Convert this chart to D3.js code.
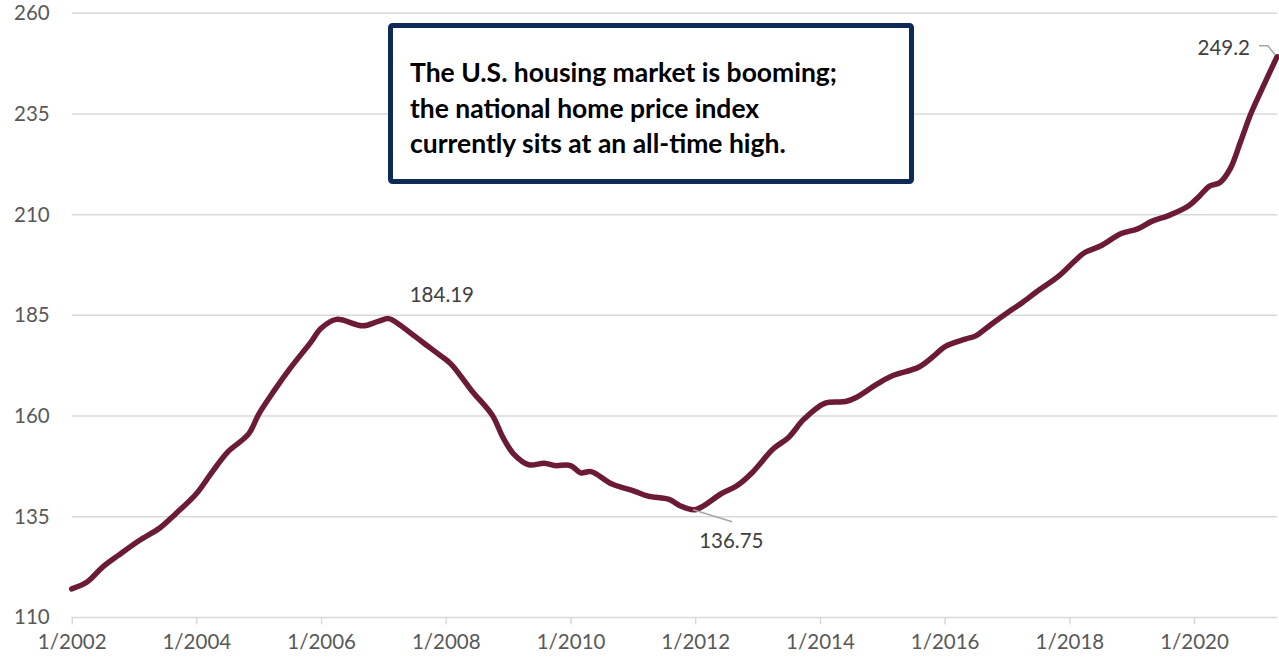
<!DOCTYPE html>
<html>
<head>
<meta charset="utf-8">
<script src="https://cdn.jsdelivr.net/npm/d3@7"></script>
<style>
  html, body { margin: 0; padding: 0; background: #fff; }
  svg { display: block; }
  text { font-family: Lato, "Open Sans", sans-serif; }
</style>
</head>
<body>
<svg id="chart" width="1279" height="666"></svg>
<script>
// ---- data ----
const months = [
  "2002-01","2002-04","2002-07","2002-10","2003-02","2003-06","2003-09",
  "2004-01","2004-04","2004-07","2004-11","2005-01","2005-04","2005-07","2005-11",
  "2006-01","2006-04","2006-09","2006-12","2007-02","2007-04","2007-07","2007-09","2007-12",
  "2008-02","2008-06","2008-10","2008-12","2009-02","2009-05","2009-08","2009-10",
  "2010-01","2010-03","2010-05","2010-09","2011-01","2011-04","2011-08","2011-10",
  "2012-01","2012-06","2012-09","2012-12","2013-04","2013-07","2013-10",
  "2014-02","2014-06","2014-08","2014-12","2015-03","2015-08","2015-11",
  "2016-01","2016-05","2016-07","2016-10","2017-02","2017-04","2017-07","2017-11",
  "2018-02","2018-04","2018-07","2018-11","2019-02","2019-05","2019-08","2019-12",
  "2020-02","2020-04","2020-06","2020-08","2020-10","2020-12","2021-02","2021-05"
];
const values = [
  117.1,118.8,122.5,125.4,129.1,132.2,135.7,
  140.7,146.0,151.0,155.5,160.5,166.3,171.7,178.3,
  181.8,184.0,182.4,183.5,184.19,182.8,179.9,177.9,175.0,
  172.9,166.3,160.1,154.7,150.6,147.9,148.3,147.7,
  147.7,145.9,146.2,143.1,141.5,140.1,139.3,137.8,
  136.75,140.7,142.7,146.0,151.8,154.7,159.3,
  163.2,163.6,164.6,167.9,170.0,172.1,175.0,
  177.2,179.1,179.9,182.8,186.5,188.2,191.1,194.8,
  198.5,200.6,202.2,205.3,206.4,208.4,209.7,212.2,
  214.6,217.1,218.0,221.5,228.3,235.3,241.1,249.2
];
const yTicks = [110, 135, 160, 185, 210, 235, 260];
const xTickYears = [2002, 2004, 2006, 2008, 2010, 2012, 2014, 2016, 2018, 2020];
const annotationLines = [
  "The U.S. housing market is booming;",
  "the national home price index",
  "currently sits at an all-time high."
];
// labelled points: peak, trough, latest
const callouts = [
  { month: "2007-02", value: 184.19, text: "184.19" },
  { month: "2012-01", value: 136.75, text: "136.75" },
  { month: "2021-05", value: 249.2,  text: "249.2" }
];

// ---- setup ----
const parse = d3.timeParse("%Y-%m");
const data = months.map((m, i) => ({ date: parse(m), value: values[i] }));

const svg = d3.select("#chart");
const plotLeft = 71.7, plotRight = 1277, plotTop = 13.3, plotBottom = 617.4;

const x = d3.scaleTime()
  .domain([parse("2002-01"), parse("2021-05")])
  .range([plotLeft, plotRight]);
const y = d3.scaleLinear().domain([110, 260]).range([plotBottom, plotTop]);

const gridColor = "#d9d9d9";
const labelColor = "#595959";

// gridlines
svg.append("g")
  .selectAll("line")
  .data(yTicks.filter(d => d !== 110))
  .join("line")
  .attr("x1", plotLeft).attr("x2", plotRight)
  .attr("y1", d => y(d)).attr("y2", d => y(d))
  .attr("stroke", gridColor).attr("stroke-width", 1.5);

// y axis labels
const yAxis = svg.append("g")
  .attr("transform", `translate(${plotLeft},0)`)
  .call(d3.axisLeft(y).tickValues(yTicks).tickSize(0).tickPadding(22).tickFormat(d3.format("d")));
yAxis.select(".domain").remove();
yAxis.selectAll("text")
  .attr("fill", labelColor)
  .style("font-size", "20.5px")
  .style("font-family", "Lato, 'Open Sans', sans-serif");

// x axis
const xAxis = svg.append("g")
  .attr("transform", `translate(0,${plotBottom})`)
  .call(d3.axisBottom(x)
    .tickValues(xTickYears.map(yr => new Date(yr, 0, 1)))
    .tickSize(7)
    .tickPadding(10)
    .tickFormat(d => "1/" + d.getFullYear()));
xAxis.select(".domain")
  .attr("stroke", gridColor).attr("stroke-width", 1.5)
  .attr("d", `M${plotLeft},0H${plotRight}`);
xAxis.selectAll(".tick line").attr("stroke", gridColor).attr("stroke-width", 1.5);
xAxis.selectAll("text")
  .attr("fill", labelColor)
  .style("font-size", "20.5px")
  .style("font-family", "Lato, 'Open Sans', sans-serif");

// line
const line = d3.line()
  .x(d => x(d.date))
  .y(d => y(d.value))
  .curve(d3.curveCatmullRom.alpha(0.5));
svg.append("path")
  .datum(data)
  .attr("d", line)
  .attr("fill", "none")
  .attr("stroke", "#6c1b34")
  .attr("stroke-width", 5.5)
  .attr("stroke-linecap", "round")
  .attr("stroke-linejoin", "round");

// callouts
const cg = svg.append("g").attr("fill", "#404040").style("font-size", "20.5px");
{
  const c = callouts[0];
  const px = x(parse(c.month)), py = y(c.value);
  cg.append("text").attr("x", px + 21).attr("y", py - 17).text(c.text);
}
{
  const c = callouts[1];
  const px = x(parse(c.month)), py = y(c.value);
  svg.append("line")
    .attr("x1", px - 2).attr("y1", py)
    .attr("x2", px + 37).attr("y2", py + 12)
    .attr("stroke", "#a6a6a6").attr("stroke-width", 1.5);
  cg.append("text").attr("x", px + 4).attr("y", py + 38).text(c.text);
}
{
  const c = callouts[2];
  const px = x(parse(c.month)), py = y(c.value);
  svg.append("path")
    .attr("d", `M${px - 18},${py - 11}H${px - 9}L${px - 2},${py - 2}`)
    .attr("fill", "none")
    .attr("stroke", "#a6a6a6").attr("stroke-width", 1.5);
  cg.append("text").attr("x", px - 27).attr("y", py - 2)
    .attr("text-anchor", "end").text(c.text);
}

// annotation box
svg.append("rect")
  .attr("x", 390.5).attr("y", 25.5)
  .attr("width", 521).attr("height", 156)
  .attr("rx", 2)
  .attr("fill", "#fff")
  .attr("stroke", "#0d2b56")
  .attr("stroke-width", 5);

const ann = svg.append("g");
const annText = ann.selectAll("text")
  .data(annotationLines)
  .join("text")
  .attr("x", 410)
  .attr("y", (d, i) => 82 + i * 35.5)
  .attr("fill", "#000")
  .style("font-weight", "bold")
  .style("font-size", "24px")
  .text(d => d);
// fit first line to the reference width
const w0 = annText.node().getComputedTextLength();
const fs = 24 * 427 / w0;
annText.style("font-size", fs.toFixed(2) + "px");
</script>
</body>
</html>
